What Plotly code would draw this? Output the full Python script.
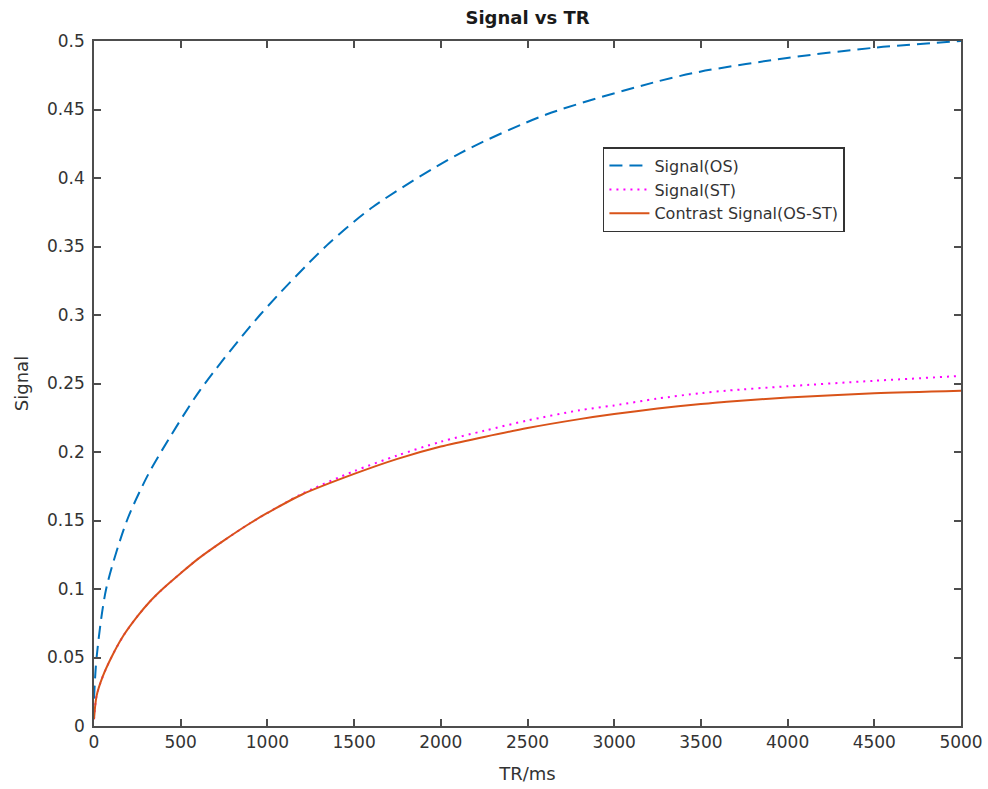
import plotly.graph_objects as go

tr_os = [0, 15, 70, 190, 306, 391, 611, 957, 1344, 1610, 2110, 2612, 3224,
         3495, 3997, 4493, 5000]
signal_os = [0.02, 0.05, 0.10, 0.15, 0.182, 0.201, 0.245, 0.300, 0.351, 0.379,
             0.418, 0.4465, 0.4696, 0.4776, 0.4876, 0.495, 0.500]

tr_st = [0, 15, 50, 100, 170, 250, 320, 400, 500, 600, 750, 900, 1000, 1200, 1500,
         1750, 2000, 2250, 2500, 2800, 3000, 3250, 3500, 3650, 4000, 4500, 5000]

signal_st = [0.005, 0.022, 0.036, 0.050, 0.066, 0.080, 0.0905, 0.1005, 0.1115, 0.122,
             0.1355, 0.148, 0.1555, 0.1695, 0.186, 0.1975, 0.2075, 0.2155, 0.223, 0.2305,
             0.234, 0.239, 0.243, 0.2448, 0.248, 0.252, 0.2555]

contrast = [0.005, 0.022, 0.036, 0.050, 0.066, 0.080, 0.0905, 0.1005, 0.1115, 0.122,
            0.1355, 0.148, 0.1555, 0.169, 0.184, 0.195, 0.204, 0.211, 0.2175, 0.224,
            0.2277, 0.2317, 0.235, 0.2367, 0.2397, 0.2428, 0.2447]

names = ["Signal(OS)", "Signal(ST)", "Contrast Signal(OS-ST)"]

FONT = "DejaVu Sans"
AX = "#4d4d4d"
TXT = "#333333"

fig = go.Figure()
fig.add_trace(go.Scatter(x=tr_os, y=signal_os, mode="lines", name=names[0],
                         line=dict(color="#0072BD", width=2, dash="13px,7px",
                                   shape="spline", smoothing=0.8)))
fig.add_trace(go.Scatter(x=tr_st, y=signal_st, mode="lines", name=names[1],
                         line=dict(color="#FF00FF", width=2, dash="2px,5px",
                                   shape="spline", smoothing=0.8)))
fig.add_trace(go.Scatter(x=tr_st, y=contrast, mode="lines", name=names[2],
                         line=dict(color="#D95319", width=2,
                                   shape="spline", smoothing=0.8)))

axis_common = dict(showline=True, linecolor=AX, linewidth=1.5, mirror="ticks",
                   ticks="inside", ticklen=7, tickcolor=AX, tickwidth=1.5,
                   showgrid=False, zeroline=False, automargin=False,
                   tickfont=dict(family=FONT, size=17, color=TXT))

fig.update_xaxes(range=[0, 5000], dtick=500, tick0=0, tickformat="d",
                 title=dict(text="TR/ms", font=dict(family=FONT, size=18, color=TXT),
                            standoff=16),
                 **axis_common)
fig.update_yaxes(range=[0, 0.5], dtick=0.05, tick0=0, ticklabelstandoff=4,
                 title=dict(text="Signal", font=dict(family=FONT, size=18, color=TXT),
                            standoff=14),
                 **axis_common)

fig.update_layout(
    width=988, height=789,
    margin=dict(l=94, r=27, t=41, b=63),
    paper_bgcolor="white", plot_bgcolor="white",
    title=dict(text="<b>Signal vs TR</b>", x=0.534, xanchor="center",
               y=0.977, yanchor="middle",
               font=dict(family=FONT, size=18, color="#1a1a1a")),
    legend=dict(x=0.587, y=0.845, xanchor="left", yanchor="top",
                bgcolor="white", bordercolor="#333333", borderwidth=1.5,
                font=dict(family=FONT, size=16, color="#333333"),
                itemwidth=40),
    showlegend=True,
)

fig.write_html("out.html")
